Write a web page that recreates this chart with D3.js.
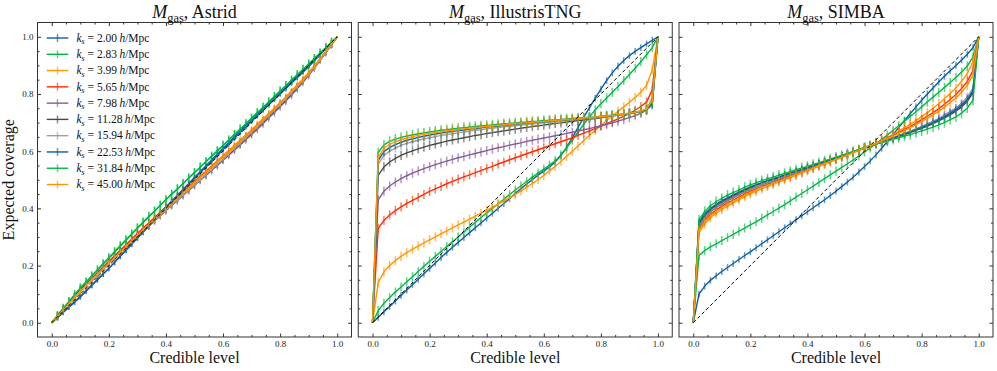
<!DOCTYPE html>
<meta charset="utf-8">
<script src="https://d3js.org/d3.v7.min.js"></script>
<style>
  body { margin: 0; background: #fff; }
  text { font-family: "Liberation Serif", "Times New Roman", serif; fill: #111; }
</style>
<div id="chart"></div>
<script>

// credible levels (x) shared by every curve
var levels = [0, 0.02, 0.04, 0.06, 0.08, 0.1, 0.12, 0.14, 0.16, 0.18, 0.2, 0.22, 0.24, 0.26, 0.28, 0.3, 0.32, 0.34, 0.36, 0.38, 0.4,
  0.42, 0.44, 0.46, 0.48, 0.5, 0.52, 0.54, 0.56, 0.58, 0.6, 0.62, 0.64, 0.66, 0.68, 0.7, 0.72, 0.74, 0.76, 0.78, 0.8,
  0.82, 0.84, 0.86, 0.88, 0.9, 0.92, 0.94, 0.96, 0.98, 1];

var ksLabels = ["2.00", "2.83", "3.99", "5.65", "7.98", "11.28", "15.94", "22.53", "31.84", "45.00"];
var colors = ["#0C5DA5", "#00B945", "#FF9500", "#FF2C00", "#845B97", "#474747", "#9e9e9e", "#0C5DA5", "#00B945", "#FF9500"];
var simNames = ["Astrid", "IllustrisTNG", "SIMBA"];

var majorTicks = [0, 0.2, 0.4, 0.6, 0.8, 1.0];
var minorTicks = [0.05, 0.1, 0.15, 0.25, 0.3, 0.35, 0.45, 0.5, 0.55, 0.65, 0.7, 0.75, 0.85, 0.9, 0.95];

// expected coverage, one row per k_s
var astridCov = [
  [0, .018, .037, .055, .074, .092, .112, .131, .151, .170, .190, .211, .232, .253, .274, .295, .316, .337, .358, .379, .400, .421, .442, .463, .484, .505, .525, .545, .565, .585, .605, .625, .645, .665, .685, .705, .724, .743, .762, .781, .800, .819, .838, .857, .876, .895, .916, .937, .958, .979, 1],
  [0, .025, .049, .073, .097, .120, .141, .162, .183, .204, .225, .246, .267, .288, .309, .330, .350, .370, .390, .410, .430, .449, .468, .487, .506, .525, .544, .563, .582, .601, .620, .639, .658, .677, .696, .715, .734, .753, .772, .791, .810, .829, .848, .867, .886, .905, .924, .943, .962, .981, 1],
  [0, .023, .046, .068, .090, .112, .132, .152, .172, .192, .212, .232, .251, .271, .290, .310, .329, .348, .367, .386, .405, .423, .441, .459, .477, .495, .513, .531, .549, .567, .585, .603, .621, .639, .657, .675, .694, .713, .732, .751, .770, .790, .811, .832, .853, .875, .899, .924, .949, .975, 1],
  [0, .023, .046, .069, .092, .115, .135, .155, .175, .195, .215, .234, .254, .273, .293, .312, .331, .349, .368, .386, .405, .422, .439, .457, .474, .492, .510, .527, .545, .562, .580, .598, .616, .634, .652, .670, .689, .708, .727, .746, .765, .785, .806, .827, .848, .870, .895, .921, .947, .974, 1],
  [0, .022, .044, .066, .088, .110, .130, .149, .169, .188, .208, .227, .246, .265, .283, .302, .320, .338, .356, .374, .392, .410, .427, .445, .462, .480, .498, .515, .533, .550, .568, .586, .604, .622, .640, .658, .677, .696, .716, .735, .755, .775, .796, .818, .841, .865, .891, .918, .945, .972, 1],
  [0, .024, .048, .071, .093, .115, .134, .153, .172, .191, .210, .229, .247, .266, .284, .303, .321, .339, .358, .376, .395, .412, .430, .447, .465, .482, .500, .517, .535, .552, .570, .588, .607, .625, .644, .662, .682, .701, .721, .740, .760, .780, .801, .823, .846, .870, .895, .921, .947, .973, 1],
  [0, .023, .046, .068, .090, .112, .131, .151, .170, .189, .208, .227, .246, .265, .283, .302, .320, .339, .357, .376, .394, .412, .429, .447, .464, .482, .500, .518, .536, .554, .572, .591, .609, .628, .646, .665, .684, .704, .723, .743, .762, .783, .804, .825, .847, .870, .895, .921, .947, .973, 1],
  [0, .018, .036, .054, .072, .090, .110, .130, .150, .170, .190, .211, .233, .254, .276, .298, .319, .341, .362, .384, .405, .426, .446, .467, .487, .508, .528, .549, .569, .590, .610, .630, .650, .670, .690, .708, .728, .747, .766, .786, .805, .824, .843, .862, .881, .900, .920, .940, .960, .980, 1],
  [0, .025, .050, .074, .098, .122, .143, .164, .185, .207, .228, .249, .270, .290, .311, .332, .352, .372, .391, .411, .430, .449, .468, .487, .506, .525, .544, .563, .582, .601, .620, .639, .658, .677, .696, .715, .734, .753, .772, .791, .810, .829, .848, .867, .886, .905, .924, .943, .962, .981, 1],
  [0, .022, .043, .065, .086, .108, .128, .148, .168, .188, .208, .227, .247, .266, .286, .305, .324, .343, .362, .381, .400, .418, .436, .454, .472, .490, .508, .526, .544, .562, .580, .598, .617, .635, .654, .672, .691, .710, .730, .749, .768, .788, .809, .829, .850, .872, .897, .923, .949, .975, 1]
];

var tngCov = [
  [0, .019, .038, .057, .076, .095, .114, .133, .152, .171, .190, .209, .228, .246, .264, .281, .298, .315, .332, .349, .366, .383, .400, .417, .434, .452, .469, .485, .501, .516, .530, .545, .562, .585, .613, .647, .683, .718, .752, .785, .817, .847, .874, .897, .917, .934, .949, .962, .975, .988, 1],
  [0, .042, .068, .088, .107, .125, .143, .161, .179, .197, .215, .232, .249, .266, .283, .300, .317, .334, .351, .368, .384, .400, .416, .432, .448, .464, .479, .494, .509, .523, .537, .551, .566, .587, .612, .639, .667, .694, .720, .744, .766, .786, .806, .826, .847, .868, .890, .913, .937, .962, 1],
  [0, .140, .178, .200, .217, .232, .245, .257, .268, .279, .290, .300, .311, .321, .332, .342, .352, .362, .373, .383, .393, .404, .415, .426, .437, .448, .461, .474, .487, .501, .515, .531, .547, .564, .582, .600, .618, .637, .655, .673, .690, .707, .723, .739, .755, .771, .788, .806, .830, .885, 1],
  [0, .330, .358, .377, .392, .405, .417, .428, .438, .449, .459, .468, .477, .486, .494, .502, .510, .517, .525, .532, .540, .547, .555, .562, .570, .577, .584, .591, .598, .605, .612, .619, .626, .633, .640, .647, .655, .663, .671, .679, .688, .696, .704, .713, .722, .732, .743, .756, .772, .815, 1],
  [0, .430, .460, .478, .492, .504, .514, .523, .531, .539, .546, .553, .559, .565, .571, .577, .582, .587, .592, .597, .602, .607, .612, .616, .621, .625, .629, .634, .638, .642, .646, .650, .654, .658, .662, .666, .670, .675, .679, .684, .689, .694, .699, .705, .711, .717, .724, .732, .744, .785, 1],
  [0, .515, .545, .562, .575, .585, .594, .601, .608, .614, .620, .625, .630, .635, .639, .643, .647, .651, .655, .658, .662, .665, .668, .671, .674, .677, .680, .683, .686, .689, .691, .694, .697, .699, .702, .704, .707, .709, .712, .714, .717, .720, .723, .726, .729, .732, .736, .740, .746, .765, 1],
  [0, .555, .585, .600, .611, .620, .627, .633, .638, .643, .647, .651, .655, .658, .661, .664, .667, .670, .673, .675, .678, .680, .683, .685, .687, .689, .691, .693, .695, .697, .699, .701, .703, .705, .707, .709, .711, .713, .715, .717, .719, .721, .723, .726, .728, .731, .734, .738, .744, .762, 1],
  [0, .568, .598, .613, .623, .631, .638, .643, .648, .652, .656, .660, .663, .666, .669, .672, .674, .677, .679, .682, .684, .686, .688, .690, .692, .694, .696, .698, .700, .702, .703, .705, .707, .709, .710, .712, .714, .716, .717, .719, .721, .723, .725, .727, .729, .732, .735, .739, .745, .765, 1],
  [0, .595, .622, .634, .642, .648, .653, .657, .661, .664, .667, .670, .673, .675, .678, .680, .682, .684, .686, .688, .690, .692, .694, .696, .697, .699, .701, .702, .704, .705, .707, .708, .710, .711, .713, .714, .716, .717, .719, .720, .722, .724, .726, .728, .730, .733, .736, .740, .746, .772, 1],
  [0, .578, .610, .624, .633, .640, .646, .651, .655, .659, .662, .665, .668, .671, .673, .676, .678, .680, .682, .684, .686, .688, .690, .692, .694, .696, .698, .699, .701, .703, .704, .706, .708, .709, .711, .712, .714, .716, .717, .719, .721, .723, .725, .727, .730, .733, .736, .741, .748, .780, 1]
];

var simbaCov = [
  [0, .100, .128, .148, .164, .179, .193, .207, .221, .235, .248, .262, .276, .290, .304, .318, .332, .346, .360, .374, .388, .402, .416, .430, .445, .460, .476, .492, .509, .527, .546, .566, .587, .610, .634, .658, .683, .707, .731, .755, .778, .800, .821, .842, .862, .881, .900, .919, .939, .962, 1],
  [0, .235, .252, .265, .276, .287, .298, .309, .320, .331, .342, .353, .365, .377, .389, .401, .413, .426, .439, .452, .465, .478, .491, .504, .517, .530, .543, .556, .569, .583, .597, .611, .626, .641, .657, .673, .689, .705, .721, .738, .755, .772, .789, .806, .823, .840, .858, .877, .898, .930, 1],
  [0, .315, .346, .367, .383, .396, .408, .419, .430, .441, .451, .459, .468, .476, .484, .492, .500, .507, .515, .523, .531, .539, .547, .554, .562, .570, .578, .586, .595, .602, .611, .619, .628, .638, .648, .659, .670, .682, .694, .707, .721, .735, .750, .766, .783, .802, .821, .845, .871, .914, 1],
  [0, .328, .358, .379, .394, .408, .419, .429, .440, .450, .460, .468, .476, .484, .491, .499, .506, .513, .521, .528, .536, .543, .550, .558, .565, .573, .580, .587, .596, .603, .612, .619, .628, .636, .645, .655, .665, .676, .686, .698, .710, .722, .735, .749, .764, .781, .798, .819, .844, .883, 1],
  [0, .337, .367, .387, .402, .415, .427, .437, .447, .457, .466, .474, .482, .489, .496, .503, .510, .518, .525, .532, .539, .546, .553, .560, .567, .574, .582, .589, .597, .604, .612, .619, .626, .632, .639, .647, .654, .662, .669, .678, .686, .695, .704, .714, .726, .738, .751, .767, .788, .820, 1],
  [0, .350, .380, .399, .414, .427, .437, .447, .457, .466, .475, .483, .490, .497, .504, .510, .517, .524, .530, .537, .544, .550, .557, .564, .570, .577, .584, .590, .598, .605, .612, .619, .625, .632, .638, .645, .652, .658, .665, .673, .680, .688, .696, .706, .716, .727, .740, .755, .774, .804, 1],
  [0, .342, .372, .392, .407, .420, .431, .441, .451, .460, .469, .477, .485, .492, .499, .506, .513, .520, .527, .534, .541, .548, .555, .562, .568, .575, .582, .589, .597, .604, .612, .619, .626, .632, .639, .646, .654, .661, .669, .677, .685, .694, .703, .713, .724, .736, .750, .766, .786, .817, 1],
  [0, .346, .376, .396, .410, .423, .434, .444, .454, .463, .472, .480, .488, .495, .501, .508, .515, .522, .529, .535, .542, .549, .556, .563, .569, .576, .583, .590, .598, .604, .612, .619, .625, .632, .638, .645, .653, .660, .667, .675, .683, .691, .700, .710, .720, .732, .745, .761, .780, .811, 1],
  [0, .360, .389, .409, .423, .435, .446, .455, .464, .474, .482, .489, .497, .503, .509, .516, .522, .528, .535, .541, .547, .554, .560, .566, .573, .579, .585, .592, .599, .605, .613, .619, .625, .630, .635, .641, .647, .653, .658, .665, .671, .677, .684, .692, .700, .710, .720, .733, .751, .778, 1],
  [0, .322, .353, .373, .389, .402, .414, .425, .435, .446, .455, .464, .473, .480, .488, .495, .503, .511, .518, .526, .533, .541, .549, .556, .564, .571, .579, .587, .595, .603, .611, .619, .627, .635, .644, .653, .662, .672, .682, .693, .704, .715, .727, .740, .754, .770, .786, .806, .830, .867, 1]
];

// half-length of the error bars, one per k_s
var astridErr = [0.010, 0.016, 0.012, 0.012, 0.014, 0.012, 0.012, 0.010, 0.016, 0.012];
var tngErr = [0.012, 0.016, 0.016, 0.016, 0.016, 0.016, 0.016, 0.016, 0.018, 0.016];
var simbaErr = [0.012, 0.016, 0.016, 0.016, 0.014, 0.014, 0.014, 0.014, 0.018, 0.016];

var panels = [
  {name: simNames[0], cov: astridCov, err: astridErr},
  {name: simNames[1], cov: tngCov, err: tngErr},
  {name: simNames[2], cov: simbaCov, err: simbaErr}
];

var marginLeft = 37.5, marginTop = 22.5, panelW = 314, panelH = 314.5, step = 320.75;

var svg = d3.select("#chart")
  .append("svg")
    .attr("width", 997)
    .attr("height", 371);

panels.forEach(function(p, pi) {
  var g = svg.append("g")
      .attr("transform", "translate(" + (marginLeft + pi * step) + "," + marginTop + ")");

  var x = d3.scaleLinear().domain([-0.05, 1.05]).range([0, panelW]);
  var y = d3.scaleLinear().domain([-0.05, 1.05]).range([panelH, 0]);

  var line = d3.line()
      .x(function(d) { return x(d[0]); })
      .y(function(d) { return y(d[1]); });

  // curves with their error bars
  p.cov.forEach(function(series, si) {
    var pts = levels.map(function(l, i) { return [l, series[i]]; });
    var s = g.append("g");
    s.selectAll("line")
      .data(pts.slice(1, pts.length - 1))
      .enter()
      .append("line")
        .attr("x1", function(d) { return x(d[0]); })
        .attr("x2", function(d) { return x(d[0]); })
        .attr("y1", function(d) { return y(d[1] - p.err[si]); })
        .attr("y2", function(d) { return y(d[1] + p.err[si]); })
        .attr("stroke", colors[si])
        .attr("stroke-opacity", 0.62)
        .attr("stroke-width", 1.5);
    s.append("path")
      .datum(pts)
      .attr("d", line)
      .attr("fill", "none")
      .attr("stroke", colors[si])
      .attr("stroke-width", 1.4);
  });

  // calibrated diagonal
  g.append("path")
    .datum([[0, 0], [1, 1]])
    .attr("d", line)
    .attr("stroke", "#000")
    .attr("stroke-width", 1)
    .attr("stroke-dasharray", "3.5,2.5");

  // frame
  g.append("rect")
    .attr("width", panelW)
    .attr("height", panelH)
    .attr("fill", "none")
    .attr("stroke", "#333")
    .attr("stroke-width", 1);

  // inward ticks on all four sides
  var sides = [
    {make: function() { return d3.axisBottom(x); }, tr: "translate(0," + panelH + ")", lab: true},
    {make: function() { return d3.axisTop(x); }, tr: "", lab: false},
    {make: function() { return d3.axisLeft(y); }, tr: "", lab: pi === 0},
    {make: function() { return d3.axisRight(y); }, tr: "translate(" + panelW + ",0)", lab: false}
  ];
  sides.forEach(function(sd) {
    var a = g.append("g").attr("transform", sd.tr)
      .call(sd.make().tickValues(majorTicks).tickSizeInner(-3.5).tickSizeOuter(0).tickPadding(4)
        .tickFormat(sd.lab ? d3.format(".1f") : ""));
    a.select(".domain").remove();
    a.attr("font-size", 9).attr("font-family", "Liberation Serif").attr("color", "#333");
    a.selectAll("text").style("fill", "#222");
    var m = g.append("g").attr("transform", sd.tr)
      .call(sd.make().tickValues(minorTicks).tickSizeInner(-2).tickSizeOuter(0).tickFormat(""));
    m.select(".domain").remove();
    m.attr("color", "#333");
  });

  // title
  var t = g.append("text")
    .attr("x", panelW / 2)
    .attr("y", -5)
    .attr("text-anchor", "middle")
    .style("font-size", "18px");
  t.append("tspan").attr("font-style", "italic").text("M");
  t.append("tspan").attr("dy", 4).style("font-size", "12.5px").text("gas");
  t.append("tspan").attr("dy", -4).text(", " + p.name);

  // x label
  g.append("text")
    .attr("x", panelW / 2)
    .attr("y", panelH + 26)
    .attr("text-anchor", "middle")
    .style("font-size", "16px")
    .text("Credible level");

  if (pi === 0) {
    // y label
    svg.append("text")
      .attr("transform", "translate(14," + (marginTop + panelH / 2) + ") rotate(-90)")
      .attr("text-anchor", "middle")
      .style("font-size", "16px")
      .text("Expected coverage");

    // legend
    var leg = g.append("g").attr("transform", "translate(0,15.5)");
    ksLabels.forEach(function(k, i) {
      var ry = i * 16.28;
      leg.append("line")
        .attr("x1", 9.2).attr("x2", 30.8).attr("y1", ry).attr("y2", ry)
        .attr("stroke", colors[i]).attr("stroke-width", 1.4);
      leg.append("line")
        .attr("x1", 20).attr("x2", 20).attr("y1", ry - 4).attr("y2", ry + 4)
        .attr("stroke", colors[i]).attr("stroke-opacity", 0.62).attr("stroke-width", 1.5);
      var lt = leg.append("text")
        .attr("x", 39)
        .attr("y", ry + 3.8)
        .style("font-size", "11.5px");
      lt.append("tspan").attr("font-style", "italic").text("k");
      lt.append("tspan").attr("font-style", "italic").attr("dy", 2.5).style("font-size", "8px").text("s");
      lt.append("tspan").attr("dy", -2.5).text(" = " + k + "\u2009");
      lt.append("tspan").attr("font-style", "italic").text("h");
      lt.append("tspan").text("/Mpc");
    });
  }
});

</script>
